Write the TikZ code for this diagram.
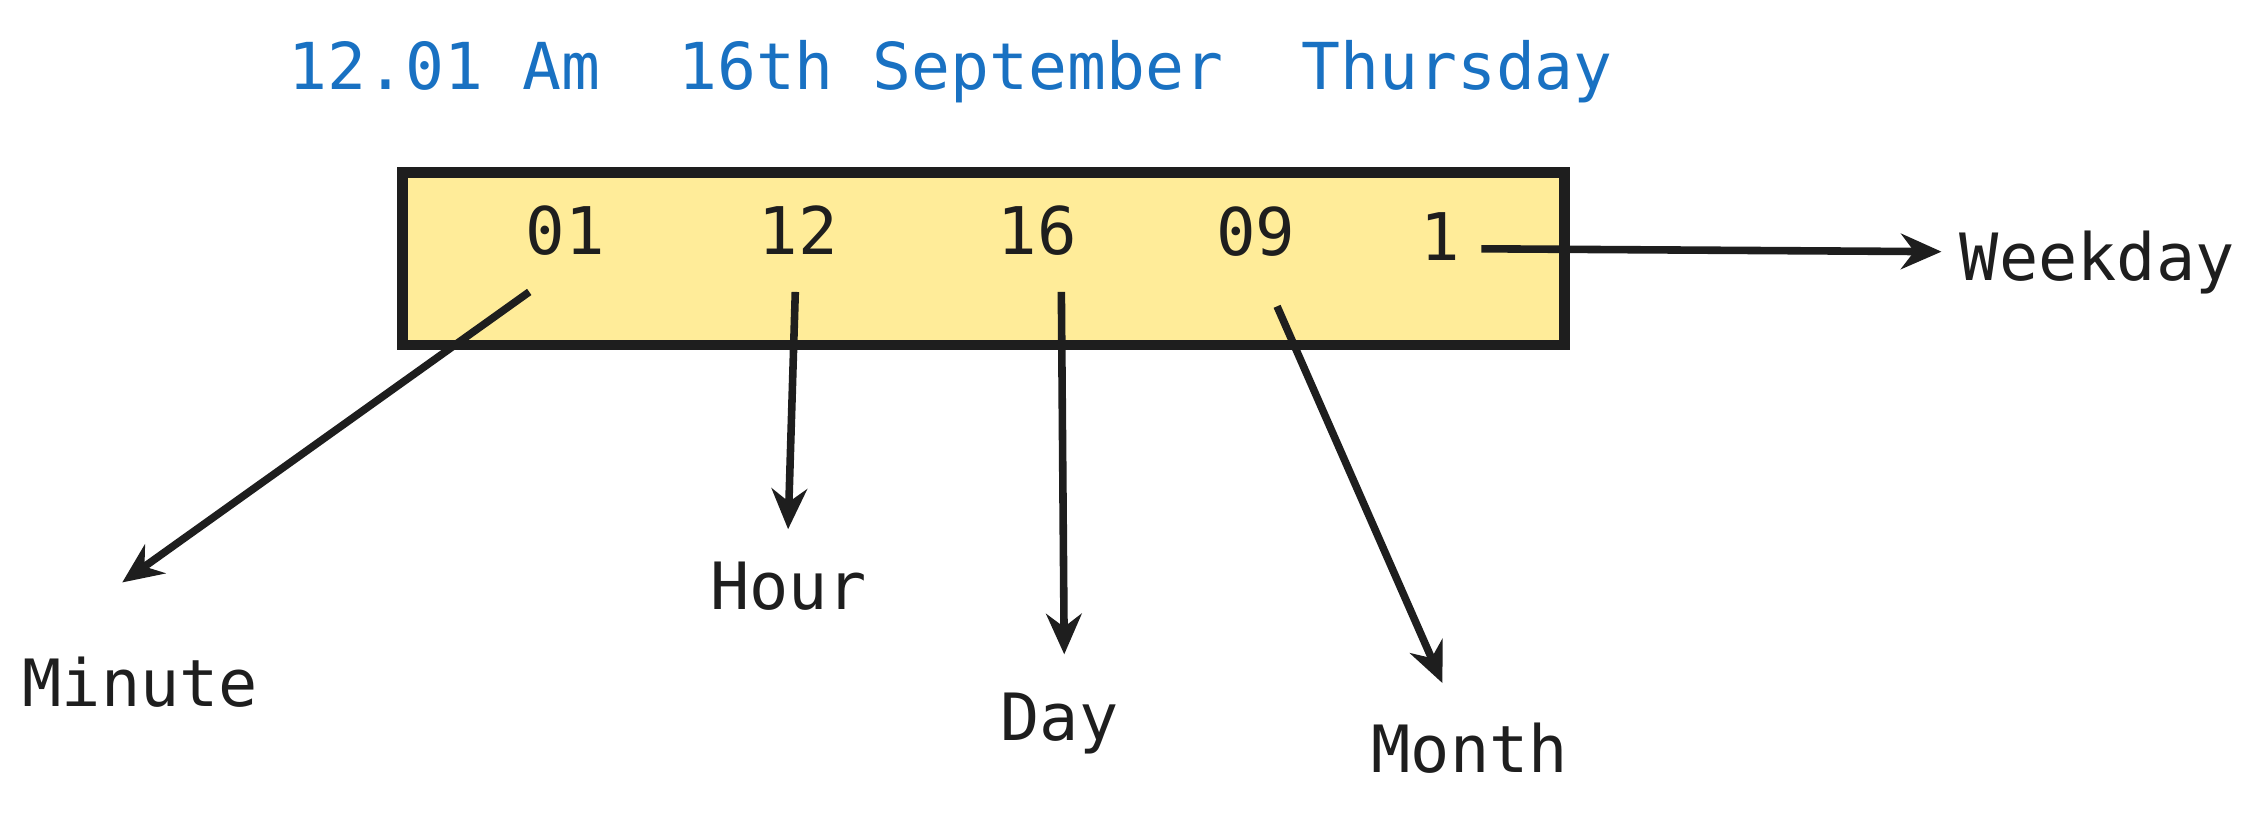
\documentclass[tikz,border=0pt]{standalone}
\usepackage{fontspec}
\setmainfont{DejaVu Sans}
\setmonofont{DejaVu Sans Mono}
\usetikzlibrary{arrows.meta}
\definecolor{inkblack}{HTML}{1E1E1E}
\definecolor{noteyellow}{HTML}{FFEC99}
\definecolor{titleblue}{HTML}{1971C2}
\tikzset{
  digit/.style={anchor=base west,inner sep=0pt,font=\ttfamily\fontsize{13}{15}\selectfont,text=inkblack},
  fieldname/.style={anchor=base west,inner sep=0pt,font=\ttfamily\fontsize{12.9}{15}\selectfont,text=inkblack},
  pointer/.style={draw=inkblack,line width=1.5pt,-{Stealth[length=8pt,width=7pt]}}
}
\begin{document}
\begin{tikzpicture}
				% fix the page to the reference size
				\useasboundingbox (0,2.49) rectangle (15.68,8.17);
				
				% Title line
				\node[digit,text=titleblue,font=\ttfamily\fontsize{12.8}{15}\selectfont] (title) at (2.0,7.55) {12.01 Am\ \ 16th September\ \ Thursday};
				
				% Yellow box holding the fields
				\draw[draw=inkblack,fill=noteyellow,line width=2.1pt] (2.80,6.97) rectangle (10.88,5.77);
				
				% Field values inside the box
				\node[digit] (minval) at (3.65,6.40) {01};
				\node[digit] (hourval) at (5.27,6.40) {12};
				\node[digit] (dayval) at (6.93,6.40) {16};
				\node[digit] (monthval) at (8.45,6.39) {09};
				\node[digit] (weekval) at (9.87,6.36) {1};
				
				% Field names
				\node[fieldname] (minute) at (0.15,3.26) {Minute};
				\node[fieldname] (hour) at (4.93,3.93) {Hour};
				\node[fieldname] (day) at (6.95,3.02) {Day};
				\node[fieldname] (month) at (9.53,2.80) {Month};
				\node[fieldname] (weekday) at (13.62,6.22) {Weekday};
				
				% Start and end points of the arrows
				\coordinate (minstart) at (3.68,6.14);
				\coordinate (mintip) at (0.85,4.12);
				\coordinate (hourstart) at (5.53,6.14);
				\coordinate (hourtip) at (5.48,4.49);
				\coordinate (daystart) at (7.38,6.14);
				\coordinate (daytip) at (7.40,3.62);
				\coordinate (monthstart) at (8.88,6.04);
				\coordinate (monthtip) at (10.03,3.42);
				\coordinate (weekstart) at (10.30,6.44);
				\coordinate (weektip) at (13.50,6.42);
				
				% Arrows from each value to its name
				\draw[pointer] (minstart) -- (mintip);
				\draw[pointer] (hourstart) -- (hourtip);
				\draw[pointer] (daystart) -- (daytip);
				\draw[pointer] (monthstart) -- (monthtip);
				\draw[pointer] (weekstart) -- (weektip);
				
				\end{tikzpicture}
\end{document}
